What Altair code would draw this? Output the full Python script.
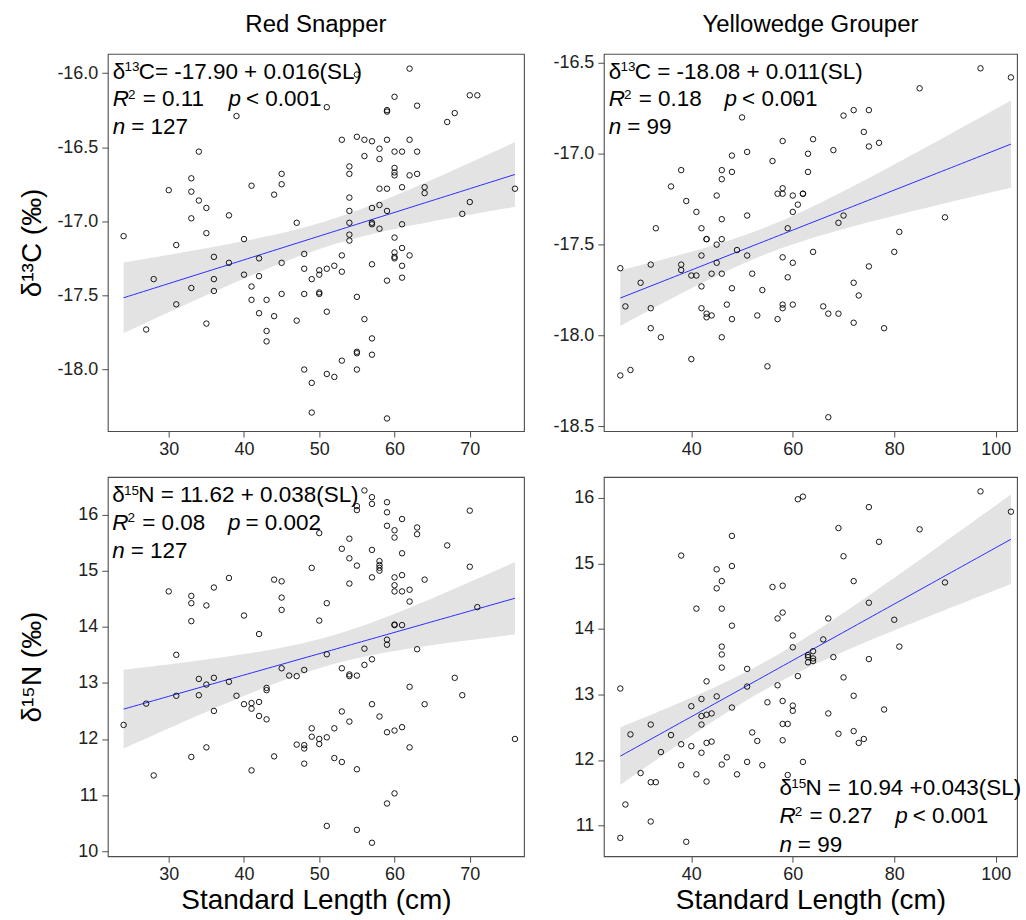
import altair as alt
import numpy as np
import pandas as pd

FONT = "Liberation Sans"

# ---- Red Snapper: standard length (cm) and delta13C (per mil)
rs_c_sl = [39, 34, 45, 33, 30, 41, 45, 33, 34, 44, 35, 38, 33, 47, 24, 35, 40, 31, 48, 36,
           42, 45, 38, 48, 40, 42, 28, 36, 33, 36, 41, 45, 48, 41, 43, 31, 42, 44, 47, 35,
           27, 43, 43, 48,
           62, 55, 60, 70, 71, 51, 63, 59, 59, 68, 67, 53, 55, 56, 57, 59, 62, 58, 60, 61,
           63, 56, 58, 54, 54, 60, 60, 60, 62, 63, 58, 59, 61, 64, 64, 76, 54, 70, 57, 58,
           59, 69, 54, 54, 57, 57, 61, 58, 54, 54, 60, 61, 53, 60, 60, 60, 62, 57, 61, 51,
           52, 50, 50, 49, 53, 59, 61, 50, 50, 55, 51, 56, 57, 55, 55, 57, 53, 55, 51, 52,
           49, 49, 59]
rs_c = [-16.29, -16.53, -16.68, -16.71, -16.79, -16.76, -16.75, -16.80, -16.86, -16.82,
        -16.91, -16.96, -16.98, -17.01, -17.10, -17.08, -17.12, -17.16, -17.22, -17.24,
        -17.25, -17.28, -17.28, -17.32, -17.36, -17.37, -17.39, -17.39, -17.45, -17.47,
        -17.44, -17.49, -17.49, -17.53, -17.53, -17.56, -17.62, -17.64, -17.67, -17.69,
        -17.73, -17.74, -17.81, -18.00,
        -15.97, -16.01, -16.16, -16.15, -16.15, -16.23, -16.22, -16.25, -16.26, -16.27,
        -16.33, -16.45, -16.43, -16.45, -16.46, -16.45, -16.45, -16.51, -16.53, -16.53,
        -16.53, -16.56, -16.58, -16.63, -16.68, -16.64, -16.67, -16.69, -16.69, -16.68,
        -16.78, -16.78, -16.77, -16.77, -16.81, -16.78, -16.84, -16.87, -16.91, -16.89,
        -16.93, -16.95, -16.93, -17.01, -17.01, -17.02, -17.02, -17.05, -17.09, -17.13,
        -17.11, -17.18, -17.23, -17.21, -17.24, -17.25, -17.23, -17.29, -17.30, -17.32,
        -17.30, -17.33, -17.36, -17.39, -17.34, -17.40, -17.38, -17.48, -17.49, -17.51,
        -17.61, -17.66, -17.79, -17.88, -17.89, -17.90, -17.94, -18.00, -18.03, -18.05,
        -18.09, -18.29, -18.33]

# ---- Yellowedge Grouper: standard length (cm) and delta13C (per mil)
yg_c_sl = [50, 61, 58, 51, 48, 56, 38, 46, 48, 46, 36, 58, 57, 58, 62, 62, 60, 45, 39, 61,
           41, 60, 51, 46, 33, 42, 59, 43, 43, 46, 45, 49, 42, 51, 58, 26, 32, 38, 38, 45,
           60, 40, 41, 44, 46, 52, 59, 30, 42, 48, 54, 27, 32, 47, 42, 43, 43, 44, 58, 58,
           60, 53, 48, 57, 32, 34, 46, 40, 55, 26, 28,
           97, 103, 85, 70, 72, 75, 74, 64, 63, 68, 75, 77, 63, 70, 69, 90, 81, 64, 80, 75,
           72, 73, 66, 67, 69, 72, 78, 67]
yg_c = [-16.80, -16.72, -16.93, -16.99, -17.01, -17.04, -17.09, -17.09, -17.10, -17.14,
        -17.18, -17.19, -17.22, -17.22, -17.22, -17.22, -17.23, -17.23, -17.26, -17.28,
        -17.32, -17.32, -17.34, -17.36, -17.41, -17.41, -17.41, -17.47, -17.47, -17.47,
        -17.50, -17.53, -17.56, -17.56, -17.57, -17.63, -17.61, -17.61, -17.64, -17.60,
        -17.60, -17.67, -17.67, -17.66, -17.66, -17.66, -17.68, -17.71, -17.73, -17.74,
        -17.75, -17.84, -17.85, -17.83, -17.85, -17.88, -17.90, -17.89, -17.83, -17.85,
        -17.83, -17.89, -17.91, -17.91, -17.96, -18.01, -18.01, -18.13, -18.17, -18.22,
        -18.19,
        -16.53, -16.58, -16.64, -16.79, -16.76, -16.76, -16.88, -16.92, -17.00, -16.98,
        -16.96, -16.94, -17.10, -17.34, -17.38, -17.35, -17.43, -17.54, -17.54, -17.62,
        -17.71, -17.78, -17.84, -17.88, -17.88, -17.93, -17.96, -18.45]

# ---- Red Snapper: standard length (cm) and delta15N (per mil)
rs_n_sl = [38, 44, 45, 36, 30, 33, 33, 35, 45, 45, 40, 33, 42, 31, 45, 48, 46, 47, 34, 36,
           35, 38, 43, 43, 27, 31, 34, 39, 40, 41, 41, 42, 36, 42, 43, 24, 47, 48, 48, 35,
           33, 44, 48, 41, 28,
           56, 57, 57, 55, 55, 59, 59, 61, 70, 59, 60, 60, 63, 63, 50, 54, 67, 53, 57, 61,
           54, 55, 58, 58, 58, 49, 70, 61, 57, 60, 64, 54, 60, 60, 61, 62, 62, 51, 50, 60,
           60, 61, 71, 56, 59, 59, 63, 51, 57, 56, 53, 54, 54, 55, 68, 62, 69, 57, 64, 53,
           58, 54, 49, 52, 49, 50, 50, 51, 59, 60, 61, 76, 62, 52, 53, 55, 60, 59, 51, 55,
           57, 58]
rs_n = [14.87, 14.84, 14.81, 14.70, 14.63, 14.55, 14.42, 14.38, 14.52, 14.30,
        14.20, 14.10, 13.87, 13.50, 13.26, 13.23, 13.13, 13.12, 13.07, 13.09,
        12.97, 13.02, 12.91, 12.87, 12.63, 12.77, 12.78, 12.77, 12.62, 12.64,
        12.54, 12.66, 12.50, 12.41, 12.35, 12.25, 11.90, 11.89, 11.83, 11.85,
        11.68, 11.69, 11.56, 11.44, 11.35,
        16.43, 16.31, 16.19, 16.15, 16.08, 16.22, 16.04, 15.92, 16.07, 15.80,
        15.72, 15.59, 15.77, 15.65, 15.67, 15.57, 15.45, 15.39, 15.37, 15.31,
        15.22, 15.09, 15.17, 15.10, 15.00, 15.05, 15.07, 14.92, 14.88, 14.88,
        14.84, 14.77, 14.74, 14.63, 14.63, 14.66, 14.45, 14.42, 14.11, 14.04,
        14.03, 14.03, 14.35, 13.61, 13.77, 13.68, 13.60, 13.51, 13.42, 13.32,
        13.26, 13.15, 13.12, 13.13, 13.09, 12.93, 12.78, 12.62, 12.62, 12.49,
        12.40, 12.31, 12.19, 12.19, 12.04, 12.00, 11.91, 12.03, 12.12, 12.15,
        12.21, 12.00, 11.85, 11.66, 11.59, 11.46, 11.03, 10.85, 10.45, 10.38,
        10.15, 15.05]

# ---- Yellowedge Grouper: standard length (cm) and delta15N (per mil)
yg_n_sl = [61, 62, 48, 38, 48, 45, 46, 45, 56, 58, 41, 46, 57, 58, 48, 60, 60, 46, 46, 46,
           51, 43, 61, 57, 51, 26, 45, 42, 40, 48, 55, 58, 60, 60, 42, 43, 44, 32, 42, 58,
           59, 28, 36, 52, 53, 58, 38, 40, 43, 44, 34, 42, 47, 38, 46, 51, 54, 62, 30, 41,
           49, 32, 33, 43, 59, 27, 32, 26, 39,
           97, 103, 75, 69, 85, 77, 70, 72, 90, 75, 67, 80, 66, 81, 63, 64, 63, 64, 63, 68,
           75, 70, 72, 67, 78, 69, 72, 73, 74, 64]
yg_n = [15.98, 16.02, 15.42, 15.12, 14.96, 14.91, 14.73, 14.62, 14.64, 14.66,
        14.31, 14.31, 14.16, 14.25, 14.05, 13.90, 13.72, 13.73, 13.61, 13.41,
        13.39, 13.20, 13.28, 13.14, 13.12, 13.09, 12.97, 12.93, 12.82, 12.80,
        12.88, 12.90, 12.83, 12.75, 12.67, 12.69, 12.71, 12.54, 12.54, 12.55,
        12.55, 12.39, 12.38, 12.42, 12.29, 12.30, 12.24, 12.21, 12.26, 12.28,
        12.12, 12.11, 12.04, 11.92, 11.93, 11.97, 11.92, 11.97, 11.80, 11.78,
        11.78, 11.66, 11.66, 11.67, 11.77, 11.32, 11.06, 10.81, 10.75,
        16.10, 15.79, 15.86, 15.54, 15.52, 15.33, 15.11, 14.73, 14.71, 14.40,
        14.16, 14.14, 13.84, 13.73, 13.60, 13.66, 13.49, 13.51, 13.57, 13.57,
        13.54, 13.26, 12.98, 12.71, 12.77, 12.40, 12.44, 12.26, 12.32, 13.55]

# Fitted coefficients (intercept, slope) as reported on each panel
rs_c_fit = (-17.90, 0.016)
yg_c_fit = (-18.08, 0.011)
rs_n_fit = (11.62, 0.038)
yg_n_fit = (10.94, 0.043)

W_L, W_R = 417, 414
H_T, H_B = 378, 380
ONE = pd.DataFrame({"k": [0]})


def fit_band(sl, val, coef, t):
    """Fitted line with a 95% confidence band for the mean response."""
    x = np.asarray(sl, float)
    y = np.asarray(val, float)
    b0, b1 = coef
    n = len(x)
    s = np.sqrt(np.sum((y - (b0 + b1 * x)) ** 2) / (n - 2))
    xbar = x.mean()
    sxx = np.sum((x - xbar) ** 2)
    xs = np.linspace(x.min(), x.max(), 80)
    fit = b0 + b1 * xs
    half = t * s * np.sqrt(1.0 / n + (xs - xbar) ** 2 / sxx)
    return pd.DataFrame({"sl": xs, "fit": fit, "lo": fit - half, "hi": fit + half})


def txt(x, y, s, size=22.5, italic=False, align="left"):
    return alt.Chart(ONE).mark_text(
        align=align, baseline="alphabetic", font=FONT, fontSize=size,
        fontStyle="italic" if italic else "normal", color="black",
    ).encode(x=alt.value(x), y=alt.value(y), text=alt.value(s))


def stats_block(x0, yb, iso, eq, r2, p_txt, n, line=27.6):
    return [
        txt(x0, yb, "δ"),
        txt(x0 + 11.8, yb - 7.5, iso, size=13.5),
        txt(x0 + 26, yb, eq),
        txt(x0, yb + line, "R", italic=True),
        txt(x0 + 15.2, yb + line - 7.5, "2", size=13.5),
        txt(x0 + 30, yb + line, "= " + r2),
        txt(x0 + 116, yb + line, "p", italic=True),
        txt(x0 + 133.5, yb + line, p_txt),
        txt(x0, yb + 2 * line, "n", italic=True),
        txt(x0 + 18.4, yb + 2 * line, "= " + n),
    ]


def panel(sl, val, coef, t, xdom, ydom, xticks, yticks, yfmt, w, h,
          texts, ytitle=None, xtitle=None, title=None, title_size=24):
    pts = pd.DataFrame({"sl": sl, "v": val})
    band = fit_band(sl, val, coef, t)
    lab = "(datum.value < 0 ? '-' : '') + format(abs(datum.value), '%s')" % yfmt

    xaxis = alt.Axis(values=xticks, format="d", title=xtitle,
                     titleY=52.5, titleBaseline="alphabetic")
    yaxis = alt.Axis(values=yticks, labelExpr=lab, title=ytitle,
                     titleX=-67, titleAngle=270, titleBaseline="alphabetic")
    xs = alt.Scale(domain=xdom, nice=False, zero=False)
    ys = alt.Scale(domain=ydom, nice=False, zero=False)

    area = alt.Chart(band).mark_area(color="#e3e3e3", opacity=1).encode(
        x=alt.X("sl:Q", scale=xs, axis=xaxis),
        y=alt.Y("lo:Q", scale=ys, axis=yaxis),
        y2="hi:Q",
    )
    line = alt.Chart(band).mark_line(color="#2b2bff", strokeWidth=1).encode(
        x=alt.X("sl:Q", scale=xs, axis=xaxis),
        y=alt.Y("fit:Q", scale=ys, axis=yaxis),
    )
    dots = alt.Chart(pts).mark_point(
        shape="circle", filled=False, color="black", strokeWidth=0.9, size=30, opacity=1
    ).encode(
        x=alt.X("sl:Q", scale=xs, axis=xaxis),
        y=alt.Y("v:Q", scale=ys, axis=yaxis),
    )
    layers = [area, line, dots] + texts
    if title:
        layers.append(txt(w / 2, -22, title, size=title_size, align="center"))
    return alt.layer(*layers).properties(width=w, height=h)


tl = panel(rs_c_sl, rs_c, rs_c_fit, 1.979, [21.9, 77.2], [-18.415, -15.87],
           [30, 40, 50, 60, 70], [-18.0, -17.5, -17.0, -16.5, -16.0], ".1f", W_L, H_T,
           stats_block(5, 25, "13", "C= -17.90 + 0.016(SL)", "0.11", "< 0.001", "127"),
           ytitle="δ¹³C (‰)", title="Red Snapper")
tr = panel(yg_c_sl, yg_c, yg_c_fit, 1.985, [22.75, 104.2], [-18.526, -16.45],
           [40, 60, 80, 100], [-18.5, -18.0, -17.5, -17.0, -16.5], ".1f", W_R, H_T,
           stats_block(5, 25, "13", "C = -18.08 + 0.011(SL)", "0.18", "< 0.001", "99"),
           title="Yellowedge Grouper")
bl = panel(rs_n_sl, rs_n, rs_n_fit, 1.979, [21.9, 77.2], [9.91, 16.67],
           [30, 40, 50, 60, 70], [10, 11, 12, 13, 14, 15, 16], "d", W_L, H_B,
           stats_block(4.5, 25.5, "15", "N = 11.62 + 0.038(SL)", "0.08", "= 0.002", "127"),
           ytitle="δ¹⁵N (‰)", xtitle="Standard Length (cm)")
br = panel(yg_n_sl, yg_n, yg_n_fit, 1.985, [22.75, 104.2], [10.53, 16.32],
           [40, 60, 80, 100], [11, 12, 13, 14, 15, 16], "d", W_R, H_B,
           stats_block(176, 319, "15", "N = 10.94 +0.043(SL)", "0.27", "< 0.001", "99", line=28.2),
           xtitle="Standard Length (cm)")

chart = alt.concat(
    tl, tr, bl, br, columns=2, spacing={"row": 46, "column": 80}, bounds="flush"
).properties(
    padding={"left": 18, "top": 11, "right": 4, "bottom": 4},
    background="white",
).configure_view(
    stroke="#4d4d4d", strokeWidth=1.1
).configure_axis(
    grid=False, domain=False,
    tickColor="#4d4d4d", tickSize=6, tickWidth=1,
    labelFont=FONT, labelFontSize=18, labelColor="#222222",
    titleFont=FONT, titleFontSize=28, titleFontWeight="normal", titleColor="black",
).configure_axisX(labelPadding=3).configure_axisY(labelPadding=4)

chart.save("out.html", embed_options={"renderer": "svg", "actions": False})
